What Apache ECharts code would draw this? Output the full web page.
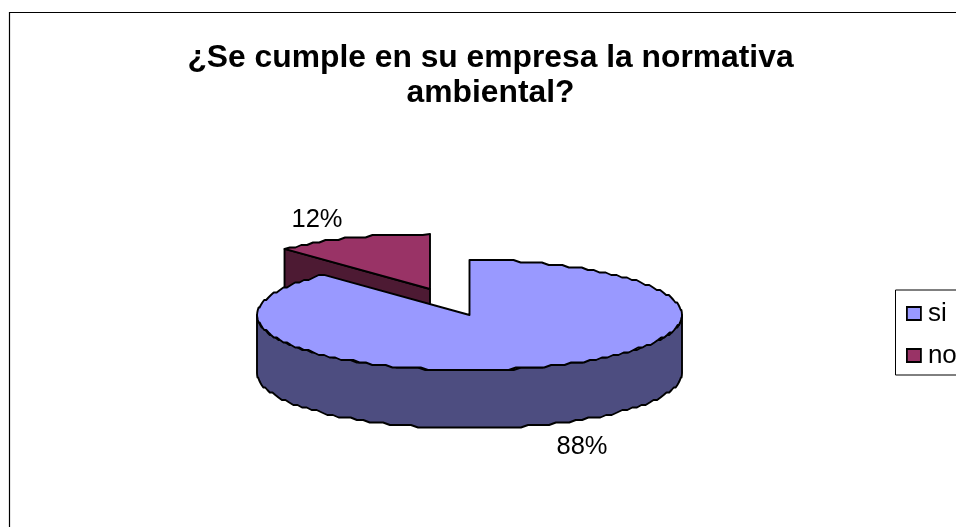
<!DOCTYPE html>
<html>
<head>
<meta charset="utf-8">
<style>html,body{margin:0;padding:0;background:#fff}#c{width:956px;height:527px}</style>
<script src="https://cdn.jsdelivr.net/npm/echarts@6/dist/echarts.min.js"></script>
</head>
<body>
<div id="c"></div>
<script>
const titleText = '¿Se cumple en su empresa la normativa\nambiental?';
const categories = ['si', 'no'];
const values = [88, 12];
const topColors = ['#9999FF', '#993366'];
const sideColors = ['#4D4D80', '#4D1A33'];

const total = values.reduce((a, b) => a + b, 0);
const geom = { cx: 469.5, cy: 315, rx: 212.5, ry: 55, depth: 58 };
const explode = [[0, 0], [-39.5, -26]];
const labelPos = [[582, 447], [317, 219.5]];
const stroke = { stroke: '#000', lineWidth: 1.9, lineJoin: 'round' };

function pt(i, deg, dz) {
  const a = deg * Math.PI / 180;
  return [
    geom.cx + explode[i][0] + geom.rx * Math.sin(a),
    geom.cy + explode[i][1] - geom.ry * Math.cos(a) + (dz || 0)
  ];
}
// the reference's outline is slightly stepped: snap inner samples' y to a small lattice
function arc(i, a0, a1, dz) {
  const out = [], n = Math.max(2, Math.ceil(Math.abs(a1 - a0) / 2));
  for (let k = 0; k <= n; k++) {
    const p = pt(i, a0 + (a1 - a0) * k / n, dz);
    if (k > 0 && k < n) p[1] = Math.round(p[1] / 2.5) * 2.5;
    out.push(p);
  }
  return out;
}
function makeRender(i) {
  return function (params, api) {
    const v = api.value(0);
    const before = values.slice(0, i).reduce((a, b) => a + b, 0);
    const a0 = before / total * 360, a1 = (before + v) / total * 360;
    const apex = [geom.cx + explode[i][0], geom.cy + explode[i][1]];
    const children = [];
    const poly = (points, fill) => children.push({
      type: 'polygon', shape: { points }, style: Object.assign({ fill }, stroke)
    });
    const s0 = Math.max(a0, 90), s1 = Math.min(a1, 270);
    if (s1 > s0) poly(arc(i, s0, s1, 0).concat(arc(i, s1, s0, geom.depth)), sideColors[i]);
    const low = p => [p[0], p[1] + geom.depth];
    if (a0 > 180 && a0 < 360) {
      const e = pt(i, a0, 0);
      poly([apex, e, low(e), low(apex)], sideColors[i]);
    }
    if (a1 > 0 && a1 < 180) {
      const e = pt(i, a1, 0);
      poly([apex, e, low(e), low(apex)], sideColors[i]);
    }
    poly([apex].concat(arc(i, a0, a1, 0)), topColors[i]);
    children.push({
      type: 'text',
      style: {
        x: labelPos[i][0], y: labelPos[i][1],
        text: Math.round(v / total * 100) + '%',
        fill: '#000', font: '25.5px "Liberation Sans"',
        textAlign: 'center', textVerticalAlign: 'middle'
      }
    });
    return { type: 'group', children };
  };
}

const chart = echarts.init(document.getElementById('c'), null, { renderer: 'canvas' });
chart.setOption({
  animation: false,
  backgroundColor: '#fff',
  title: {
    text: titleText, left: 485.5, top: 36, textAlign: 'center',
    textStyle: { fontFamily: 'Liberation Sans', fontWeight: 'bold', fontSize: 31.8, lineHeight: 35, color: '#000' }
  },
  legend: {
    orient: 'vertical', left: 895.5, top: 290, padding: [9.5, 60, 5.5, 10.5],
    itemWidth: 14, itemHeight: 13, itemGap: 14,
    borderColor: '#000', borderWidth: 1, backgroundColor: '#fff',
    data: categories.map((name, i) => ({
      name, icon: 'rect',
      itemStyle: { color: topColors[i], borderColor: '#000', borderWidth: 1.8 }
    })),
    textStyle: { fontFamily: 'Liberation Sans', fontSize: 26, lineHeight: 26, color: '#000', padding: [0, 0, 2, 2] }
  },
  graphic: [{
    type: 'polyline', silent: true,
    shape: { points: [[9.5, 527], [9.5, 12.5], [956, 12.5]] },
    style: { stroke: '#000', lineWidth: 1.2, fill: null }
  }],
  series: categories.map((name, i) => ({
    type: 'custom', name, coordinateSystem: 'none', z: i === 0 ? 3 : 2,
    itemStyle: { color: topColors[i] },
    renderItem: makeRender(i),
    data: [[values[i]]]
  }))
});
</script>
</body>
</html>
